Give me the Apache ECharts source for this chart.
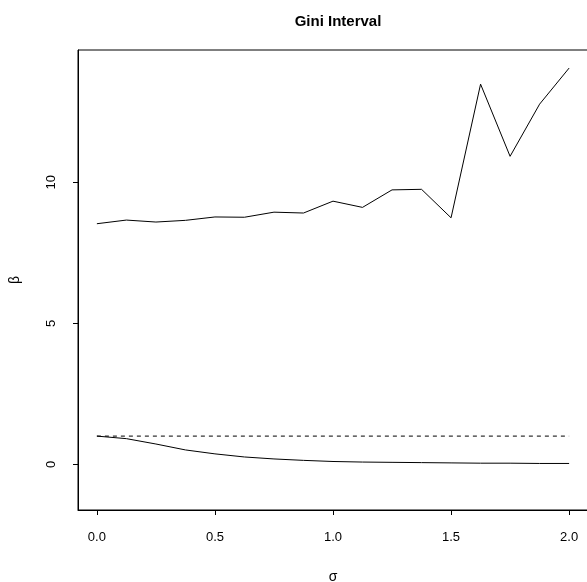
<!DOCTYPE html>
<html>
<head>
<meta charset="utf-8">
<script src="https://cdn.jsdelivr.net/npm/echarts@6/dist/echarts.min.js"></script>
<style>
  html, body { margin: 0; padding: 0; background: #fff; }
  #main { width: 587px; height: 582px; }
</style>
</head>
<body>
<div id="main"></div>
<script>
// σ grid used for both curves
var sigma = [0, 0.125, 0.25, 0.375, 0.5, 0.625, 0.75, 0.875, 1.0,
             1.125, 1.25, 1.375, 1.5, 1.625, 1.75, 1.875, 2.0];
// upper curve
var upper = [8.53, 8.66, 8.59, 8.65, 8.77, 8.76, 8.94, 8.91, 9.33,
             9.11, 9.73, 9.75, 8.74, 13.48, 10.92, 12.77, 14.05];
// lower curve
var lower = [1.0, 0.91, 0.72, 0.51, 0.37, 0.26, 0.19, 0.14, 0.10,
             0.08, 0.07, 0.06, 0.05, 0.04, 0.04, 0.03, 0.03];
// reference line at beta = 1
var refLine = [1, 1];
var refX = [0, 2];
var xTicks = [0, 0.5, 1, 1.5, 2];
var yTicks = [0, 5, 10];

function pairs(xs, ys) {
    var out = [];
    for (var i = 0; i < xs.length; i++) {
        out.push([xs[i], ys[i]]);
    }
    return out;
}

var font = 'Liberation Sans, Arial, sans-serif';
var chart = echarts.init(document.getElementById('main'));

var option = {
    animation: false,
    title: {
        text: 'Gini Interval',
        left: 333,
        top: 9,
        textAlign: 'center',
        textStyle: { fontFamily: font, fontSize: 15, fontWeight: 'bold', color: '#000' }
    },
    grid: {
        left: 78,
        top: 50,
        width: 510,
        height: 460,
        outerBoundsMode: 'none',
        show: true,
        borderColor: '#000',
        borderWidth: 1
    },
    xAxis: {
        type: 'value',
        min: -0.08,
        max: 2.08,
        name: 'σ',
        nameLocation: 'middle',
        nameGap: 60,
        nameTextStyle: { fontFamily: font, fontSize: 14, color: '#000' },
        axisLine: { onZero: false, lineStyle: { color: '#000', width: 1 } },
        splitLine: { show: false },
        axisTick: { show: true, customValues: xTicks },
        axisLabel: {
            customValues: xTicks,
            margin: 21,
            fontFamily: font,
            fontSize: 13,
            color: '#000',
            formatter: function (v) { return v.toFixed(1); }
        }
    },
    yAxis: {
        type: 'value',
        min: -1.62,
        max: 14.69,
        name: 'β',
        nameLocation: 'middle',
        nameGap: 56,
        nameTextStyle: { fontFamily: font, fontSize: 14, color: '#000' },
        axisLine: { onZero: false, lineStyle: { color: '#000', width: 1 } },
        splitLine: { show: false },
        axisTick: { show: true, customValues: yTicks },
        axisLabel: {
            customValues: yTicks,
            rotate: 90,
            margin: 20,
            fontFamily: font,
            fontSize: 13,
            color: '#000'
        }
    },
    series: [
        {
            type: 'line',
            data: pairs(sigma, upper),
            showSymbol: false,
            lineStyle: { color: '#000', width: 1 }
        },
        {
            type: 'line',
            data: pairs(sigma, lower),
            showSymbol: false,
            lineStyle: { color: '#000', width: 1 }
        },
        {
            type: 'line',
            data: pairs(refX, refLine),
            showSymbol: false,
            lineStyle: { color: '#000', width: 1, type: [4, 4] }
        }
    ]
};

chart.setOption(option);
</script>
</body>
</html>
